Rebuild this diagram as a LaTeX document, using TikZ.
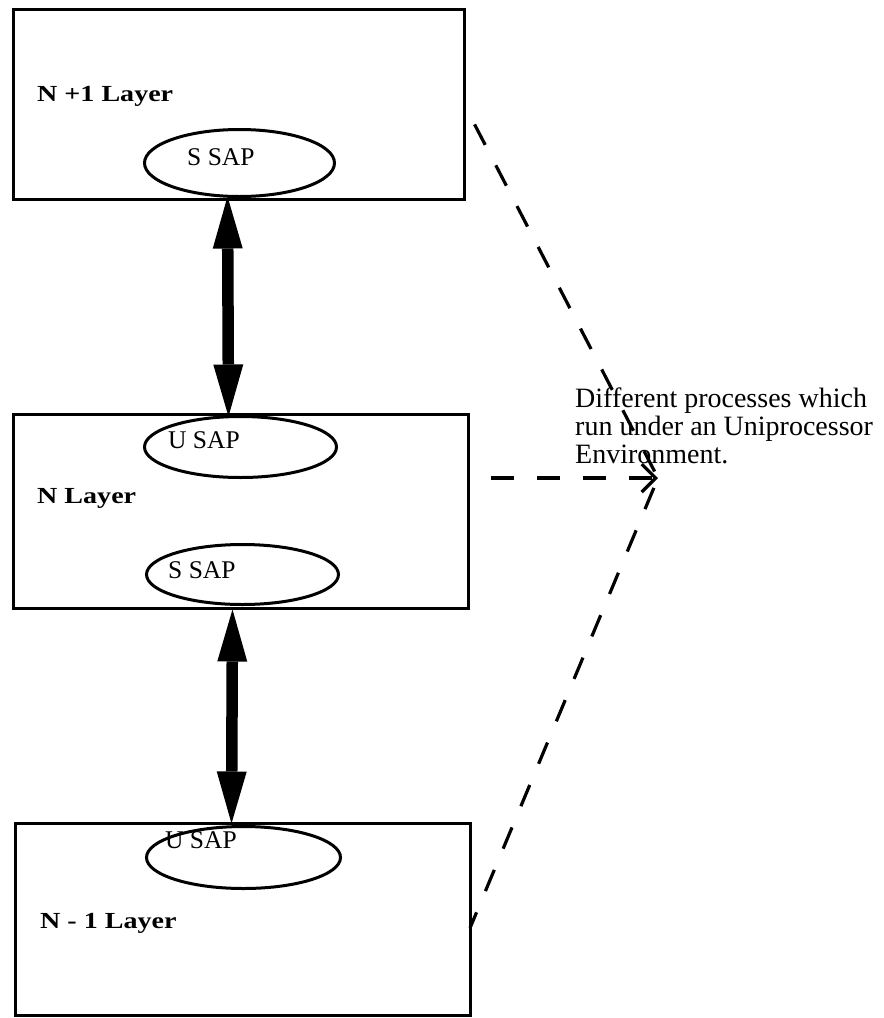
\documentclass[tikz,border=0pt]{standalone}
\usepackage{graphicx}
\usepackage{fontspec}
\setmainfont{Liberation Serif}
\usetikzlibrary{arrows.meta,shapes.geometric}
\tikzset{
  layerbox/.style={draw, line width=3pt, inner sep=0pt, outer sep=0pt},
  sap/.style={draw, ellipse, line width=3pt, inner sep=0pt, outer sep=0pt},
  saptext/.style={anchor=base west, inner sep=0pt, font=\fontsize{25.5}{26}\selectfont},
  layertext/.style={anchor=base west, inner sep=0pt, font=\bfseries\fontsize{23}{24}\selectfont},
  biarrow/.style={line width=11.5pt,
    {Triangle[length=52pt,width=30pt,line width=0pt]}-{Triangle[length=52pt,width=30pt,line width=0pt]}},
  process/.style={line width=3.2pt, dash pattern=on 23pt off 23pt, dash phase=23pt},
}
\begin{document}
\begin{tikzpicture}[x=1pt,y=-1pt]
\useasboundingbox (0,0) rectangle (884,1018);

% the three layers
\node[layerbox, minimum width=451pt, minimum height=190pt] (b1) at (238.5,104) {};
\node[layerbox, minimum width=455pt, minimum height=194pt] (b2) at (240.5,511) {};
\node[layerbox, minimum width=455pt, minimum height=192pt] (b3) at (242.5,919) {};

\node[layertext] (l1) at (37,101) {\scalebox{1.22}[1]{N +1 Layer}};
\node[layertext] (l2) at (37,503) {\scalebox{1.22}[1]{N Layer}};
\node[layertext] (l3) at (40,928) {\scalebox{1.22}[1]{N - 1 Layer}};

% service access points
\node[sap, minimum width=190pt, minimum height=67pt] (e1) at (239.5,163) {};
\node[sap, minimum width=192pt, minimum height=61pt] (e2) at (240.5,447) {};
\node[sap, minimum width=192pt, minimum height=60pt] (e3) at (242.5,574.5) {};
\node[sap, minimum width=194pt, minimum height=62pt] (e4) at (243.5,857.5) {};

\node[saptext] (t1) at (187,165) {S SAP};
\node[saptext] (t2) at (168,448) {U SAP};
\node[saptext] (t3) at (168,578) {S SAP};
\node[saptext] (t4) at (165,848) {U SAP};

% interfaces between adjacent layers
\draw[biarrow] ([xshift=-12pt]e1.south) -- ([xshift=-12pt]e2.north);
\draw[biarrow] ([xshift=-10pt,yshift=-5pt]e3.south) -- ([xshift=-12pt,yshift=3pt]e4.north);

% note on the processes (base is the baseline of its last line)
\node[anchor=base west, align=left, inner sep=0pt, font=\fontsize{28}{28}\selectfont]
  (note) at (575,463) {Different processes which\\run under an Uniprocessor\\Environment.};
\coordinate (p) at (658,478);

\draw[process] (b1.east) -- (p);
\draw[process, -{Straight Barb[length=14pt,width=28pt,line width=3.2pt]}] (b2.east |- p) -- (p);
\draw[process, dash phase=6pt] ([yshift=-9pt]b3.east) -- (p);
\end{tikzpicture}
\end{document}
